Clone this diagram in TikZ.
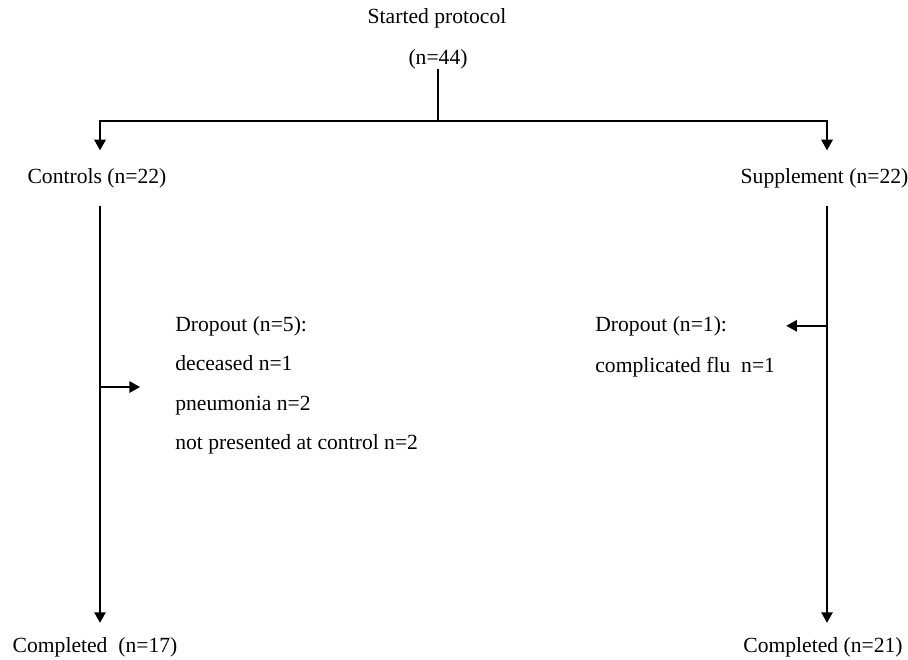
\documentclass[tikz,border=0pt]{standalone}
\usepackage{fontspec}
\setmainfont{Liberation Serif}
\usepackage{tikz}
\usetikzlibrary{arrows.meta, calc}

\begin{document}
\begin{tikzpicture}[
                x=0.02cm, y=-0.02cm, % one unit is one pixel of the reference
                every node/.style={inner sep=0pt, font=\fontsize{12.3}{14}\selectfont}, % plain text
                grp/.style={inner ysep=10pt}, % group labels
                done/.style={inner ysep=8pt}, % final counts
                item/.style={anchor=base west}, % dropout lines
                arr/.style={draw, line width=0.85pt, -{Triangle[length=6pt, width=6.5pt]}}, % arrows
                ln/.style={draw, line width=0.85pt} % plain lines
                ]
                \useasboundingbox (0,0) rectangle (908,659);
                \node (start) at (437,18) {Started protocol};
                \node (startn) at (438,59) {(n=44)};
                \node[grp] (ctrl) at (97,178) {Controls (n=22)};
                \node[grp] (supp) at (824.5,178) {Supplement (n=22)};
                \node[done] (doneL) at (95,647) {Completed\ \ (n=17)};
                \node[done] (doneR) at (823,647) {Completed (n=21)};
                \node[item] (dl1) at (175,331) {Dropout (n=5):};
                \node[item] (dl2) at (175,370) {deceased n=1};
                \node[item] (dl3) at (175,410) {pneumonia n=2};
                \node[item] (dl4) at (175,449) {not presented at control n=2};
                \node[item] (dr1) at (595,331) {Dropout (n=1):};
                \node[item] (dr2) at (595,372) {complicated flu\ \ n=1};
                \coordinate (split) at (438,121);
                \coordinate (colL) at (100,121);
                \coordinate (colR) at (827,121);
                \coordinate (midL) at ([yshift=1.7pt]$(dl2.base west)!0.5!(dl3.base west)$);
                \draw[ln] (startn.south) -- (split);
                \draw[arr] (split) -- (colL) -- (colL |- ctrl.north);
                \draw[arr] (split) -- (colR) -- (colR |- supp.north);
                \draw[arr] (colL |- ctrl.south) -- (colL |- doneL.north);
                \draw[arr] (colR |- supp.south) -- (colR |- doneR.north);
                \draw[arr, shorten >=0.7cm] (midL -| colL) -- (midL);
                \draw[arr, shorten >=1.18cm] (dr1.east -| colR) -- (dr1.east);
            \end{tikzpicture}
\end{document}
